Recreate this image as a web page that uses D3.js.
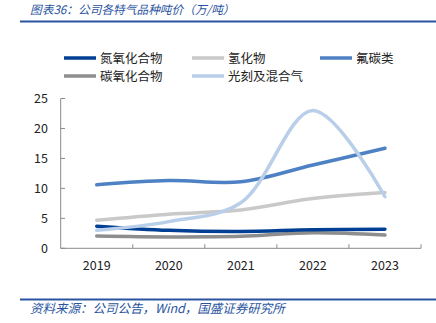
<!DOCTYPE html>
<html><head><meta charset="utf-8">
<script src="https://cdn.jsdelivr.net/npm/d3@7"></script>
<style>body{margin:0;background:#fff}svg{display:block}</style>
</head><body>
<svg id="c" width="436" height="323"></svg>
<script>
const years = ["2019","2020","2021","2022","2023"];
const seriesNames = ["氮氧化合物","氢化物","氟碳类","碳氧化合物","光刻及混合气"];
const nox   = [3.7, 3.0, 2.8, 3.1, 3.2];
const hyd   = [4.7, 5.7, 6.4, 8.3, 9.3];
const fc    = [10.6, 11.3, 11.1, 13.9, 16.7];
const cox   = [2.05, 1.9, 2.0, 2.6, 2.2];
const litho = [3.0, 4.45, 7.6, 23.0, 8.6];
const yTicks = [0,5,10,15,20,25];
const colors = ["#003f93","#c9c9c9","#4e81c4","#8e8e8e","#b9cee9"];
const values = [nox, hyd, fc, cox, litho];

const svg = d3.select("#c");
const font = "'Noto Sans CJK SC', 'Noto Sans', sans-serif";

// title
svg.append("text").attr("x",30).attr("y",13.5).attr("font-family",font).attr("font-size",11.7)
  .attr("font-style","italic").attr("fill","#2a54a0").text("图表36：公司各特气品种吨价（万/吨）");
svg.append("rect").attr("x",20).attr("y",20.5).attr("width",416).attr("height",2).attr("fill","#2a54a0");

// footer
svg.append("rect").attr("x",20).attr("y",298.5).attr("width",416).attr("height",2).attr("fill","#2a54a0");
svg.append("text").attr("x",30).attr("y",313).attr("font-family",font).attr("font-size",12.5)
  .attr("font-style","italic").attr("fill","#2a54a0").text("资料来源：公司公告，Wind，国盛证券研究所");

const x = d3.scaleBand().domain(years).range([60.7,421]);
const y = d3.scaleLinear().domain([0,25]).range([248.3,98.5]);

// axes
const ax = svg.append("g").attr("stroke","#8a8a8a").attr("stroke-width",1);
ax.append("line").attr("x1",60.7).attr("x2",60.7).attr("y1",y(25)).attr("y2",y(0));
ax.append("line").attr("x1",60.7).attr("x2",421).attr("y1",y(0)).attr("y2",y(0));
yTicks.forEach(t=>{
  ax.append("line").attr("x1",60.7).attr("x2",65).attr("y1",y(t)).attr("y2",y(t));
});
years.forEach((yr,i)=>{
  const bx = x(yr)+x.bandwidth();
  ax.append("line").attr("x1",bx).attr("x2",bx).attr("y1",y(0)).attr("y2",y(0)-4);
});
svg.append("g").selectAll("text").data(yTicks).join("text")
  .attr("x",48).attr("y",d=>y(d)).attr("dy","0.36em").attr("text-anchor","end")
  .attr("font-family",font).attr("font-size",12.5).attr("fill","#222").text(d=>d);
svg.append("g").selectAll("text").data(years).join("text")
  .attr("x",d=>x(d)+x.bandwidth()/2).attr("y",265).attr("dy","0.36em").attr("text-anchor","middle")
  .attr("font-family",font).attr("font-size",12.5).attr("fill","#222").text(d=>d);

// lines
const line = d3.line().x((d,i)=>x(years[i])+x.bandwidth()/2).y(d=>y(d)).curve(d3.curveCatmullRom.alpha(0.5));
const order = [3,1,0,2,4];
order.forEach(k=>{
  svg.append("path").attr("d",line(values[k])).attr("fill","none").attr("stroke",colors[k])
    .attr("stroke-width",3.5).attr("stroke-linecap","round");
});

// legend
const legPos = [[64,58],[192,58],[320,58],[64,76],[192,76]];
seriesNames.forEach((n,i)=>{
  const [lx,ly]=legPos[i];
  svg.append("line").attr("x1",lx).attr("x2",lx+32).attr("y1",ly).attr("y2",ly)
    .attr("stroke",colors[i]).attr("stroke-width",3.5);
  svg.append("text").attr("x",lx+36).attr("y",ly).attr("dy","0.36em").attr("font-family",font)
    .attr("font-size",12.5).attr("fill","#222").text(n);
});
</script>
</body></html>
